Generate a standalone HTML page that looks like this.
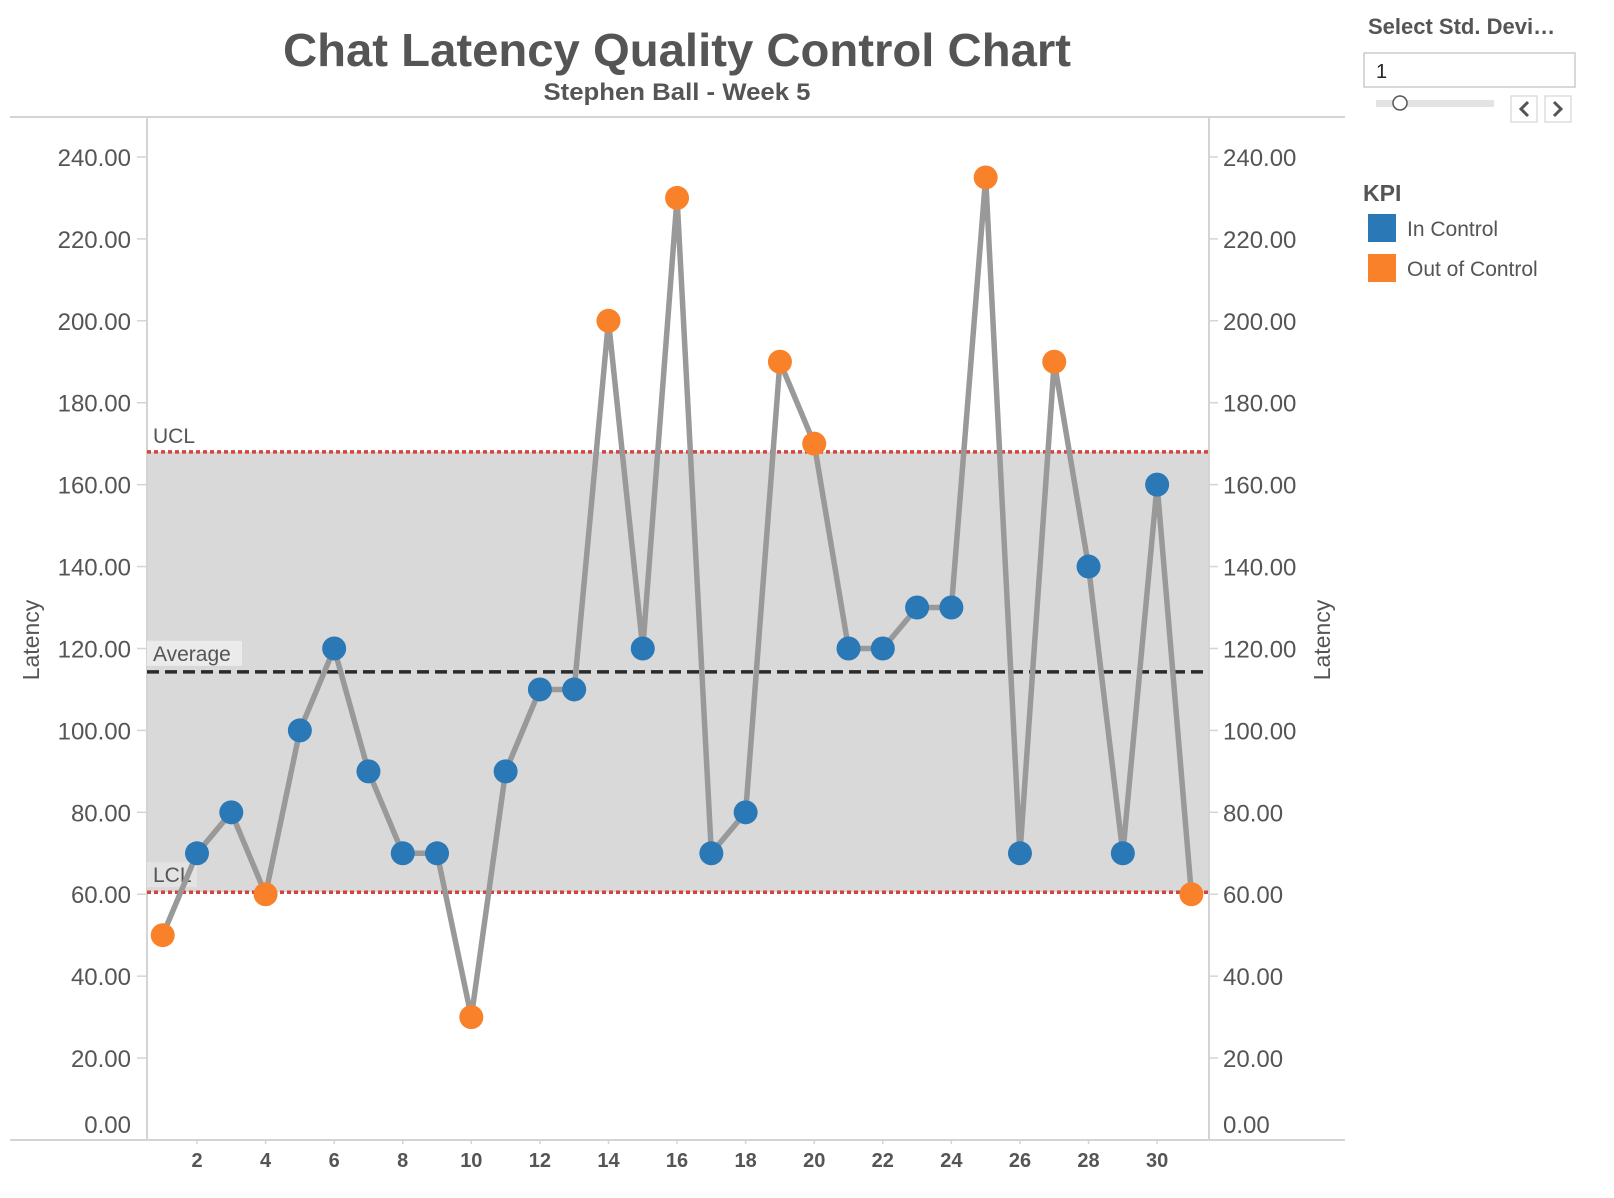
<!DOCTYPE html>
<html><head><meta charset="utf-8"><style>
body{margin:0;background:#fff;width:1614px;height:1198px;overflow:hidden;font-family:"Liberation Sans",sans-serif}
</style></head><body>
<svg id="chart" width="1614" height="1198" xmlns="http://www.w3.org/2000/svg" style="position:absolute;left:0;top:0">
<text x="677" y="66" text-anchor="middle" font-size="46" font-weight="bold" fill="#555" textLength="788" lengthAdjust="spacingAndGlyphs">Chat Latency Quality Control Chart</text>
<text x="677" y="100" text-anchor="middle" font-size="24" font-weight="bold" fill="#555" textLength="267" lengthAdjust="spacingAndGlyphs">Stephen Ball - Week 5</text>
<line x1="10" y1="117" x2="1345" y2="117" stroke="#d4d4d4" stroke-width="2"/>
<g id="plot"></g>
<text x="1368" y="34" font-size="22" font-weight="bold" fill="#555">Select Std. Devi…</text>
<rect x="1364" y="53" width="211" height="34" fill="#fff" stroke="#ccc" stroke-width="1.5"/>
<text x="1376" y="78" font-size="20" fill="#222">1</text>
<rect x="1376" y="100" width="118" height="7" fill="#e3e3e3"/>
<circle cx="1400" cy="103" r="7" fill="#fff" stroke="#555" stroke-width="1.5"/>
<rect x="1511" y="96" width="26" height="26" fill="#fff" stroke="#ccc"/>
<path d="M1528 102 L1521 109 L1528 116" fill="none" stroke="#555" stroke-width="3"/>
<rect x="1545" y="96" width="26" height="26" fill="#fff" stroke="#ccc"/>
<path d="M1554 102 L1561 109 L1554 116" fill="none" stroke="#555" stroke-width="3"/>
<text x="1363" y="201" font-size="23" font-weight="bold" fill="#555">KPI</text>
<rect x="1368" y="214" width="28" height="28" fill="#2a78b5"/>
<text x="1407" y="236" font-size="21" fill="#555">In Control</text>
<rect x="1368" y="254" width="28" height="28" fill="#f9812a"/>
<text x="1407" y="276" font-size="21" fill="#555">Out of Control</text>
</svg>
<script>
const days=[1,2,3,4,5,6,7,8,9,10,11,12,13,14,15,16,17,18,19,20,21,22,23,24,25,26,27,28,29,30,31];
const latency=[50,70,80,60,100,120,90,70,70,30,90,110,110,200,120,230,70,80,190,170,120,120,130,130,235,70,190,140,70,160,60];
const status=["out","in","in","out","in","in","in","in","in","out","in","in","in","out","in","out","in","in","out","out","in","in","in","in","out","in","out","in","in","in","out"];
const yTicks=[0,20,40,60,80,100,120,140,160,180,200,220,240];
const yTickLabels=["0.00","20.00","40.00","60.00","80.00","100.00","120.00","140.00","160.00","180.00","200.00","220.00","240.00"];
const xTicks=[2,4,6,8,10,12,14,16,18,20,22,24,26,28,30];
const ucl=168.0, avg=114.3, lcl=60.5;
const X0=147,X1=1209,Y0=1140;
function y(v){return Y0-v*4.096;}
function x(d){return 197+(d-2)*34.29;}
const NS="http://www.w3.org/2000/svg";
const g=document.getElementById('plot');
function mk(tag,attrs,txt){const e=document.createElementNS(NS,tag);for(const k in attrs)e.setAttribute(k,attrs[k]);if(txt!==undefined)e.textContent=txt;g.appendChild(e);return e;}
let e;
e=mk('rect',{x:X0,y:y(ucl),width:X1-X0,height:y(lcl)-y(ucl),fill:'#d9d9d9'});


e=mk('line',{x1:X0,y1:117,x2:X0,y2:Y0,stroke:'#d4d4d4','stroke-width':2});


e=mk('line',{x1:X1,y1:117,x2:X1,y2:Y0,stroke:'#d4d4d4','stroke-width':2});


e=mk('line',{x1:10,y1:Y0,x2:1345,y2:Y0,stroke:'#d4d4d4','stroke-width':2});


yTicks.forEach((v,i)=>{
  const yy=y(v);
  let t=mk('line',{x1:137,y1:yy,x2:X0,y2:yy,stroke:'#d4d4d4','stroke-width':1.5});
  
  
  t=mk('line',{x1:X1,y1:yy,x2:1218,y2:yy,stroke:'#d4d4d4','stroke-width':1.5});
  
  
  const ty=v===0?yy-7:yy+9;
  t=mk('text',{x:131,y:ty,'text-anchor':'end','font-size':24,fill:'#555'},yTickLabels[i]);
  
  
  t=mk('text',{x:1223,y:ty,'font-size':24,fill:'#555'},yTickLabels[i]);
  
  
});
xTicks.forEach(d=>{
  let t=mk('line',{x1:x(d),y1:Y0,x2:x(d),y2:Y0+4,stroke:'#d4d4d4','stroke-width':1.5});
  
  
  t=mk('text',{x:x(d),y:Y0+27,'text-anchor':'middle','font-size':20,'font-weight':'bold',fill:'#555'},String(d));
  
  
});
e=mk('text',{x:0,y:0,transform:'translate(39,640) rotate(-90)','text-anchor':'middle','font-size':23,fill:'#555'},'Latency');


e=mk('text',{x:0,y:0,transform:'translate(1330,640) rotate(-90)','text-anchor':'middle','font-size':23,fill:'#555'},'Latency');


e=mk('line',{x1:X0,y1:y(ucl),x2:X1,y2:y(ucl),stroke:'#d0453f','stroke-width':3.5,'stroke-dasharray':'4 3'});


e=mk('line',{x1:X0,y1:y(lcl),x2:X1,y2:y(lcl),stroke:'#d0453f','stroke-width':3.5,'stroke-dasharray':'4 3'});


e=mk('line',{x1:X0,y1:y(avg),x2:X1,y2:y(avg),stroke:'#2b2b2b','stroke-width':3.5,'stroke-dasharray':'12 6'});


e=mk('text',{x:153,y:y(ucl)-9,'font-size':21,fill:'#555'},'UCL');


e=mk('rect',{x:147,y:y(avg)-31,width:95,height:25,fill:'#ebebeb'});


e=mk('text',{x:153,y:y(avg)-11,'font-size':21,fill:'#555'},'Average');


e=mk('rect',{x:147,y:y(lcl)-30,width:50,height:25,fill:'#e3e3e3'});


e=mk('text',{x:153,y:y(lcl)-10,'font-size':21,fill:'#555'},'LCL');


e=mk('polyline',{points:days.map((d,i)=>x(d)+','+y(latency[i])).join(' '),fill:'none',stroke:'#999','stroke-width':5.5,'stroke-linejoin':'round'});


days.forEach((d,i)=>{
  const c=mk('circle',{cx:x(d),cy:y(latency[i]),r:12,fill:status[i]==='out'?'#f9812a':'#2a78b5'});
  
  
});
</script>
</body></html>
